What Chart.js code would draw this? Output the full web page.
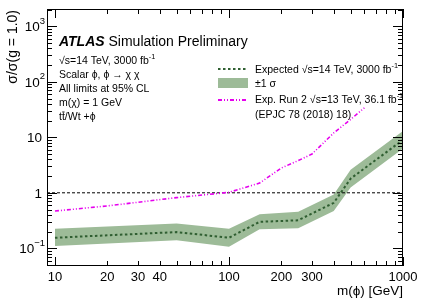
<!DOCTYPE html>
<html lang="en">
<head>
<meta charset="UTF-8">
<title>Scalar mediator limit</title>
<script src="https://cdn.jsdelivr.net/npm/chart.js"></script>
<style>
    html, body { margin: 0; padding: 0; background: #fff; }
    #wrap { width: 425px; height: 306px; }
</style>
</head>
<body>
<div id="wrap"><canvas id="limit-chart" width="425" height="306"></canvas></div>
<script>
// expected HL-LHC limit and its +-1 sigma band
const expMass = [10, 50, 100, 150, 250, 400, 500, 1000];
const expLimit = [0.155, 0.196, 0.155, 0.30, 0.32, 0.66, 1.8, 9.0];
const bandUp = [0.225, 0.28, 0.225, 0.41, 0.455, 0.93, 2.6, 13];
const bandDown = [0.11, 0.14, 0.107, 0.22, 0.23, 0.47, 1.25, 6.3];

// Run 2 expected limit (36.1 fb-1)
const run2Mass = [10, 20, 50, 100, 150, 200, 250, 300, 400, 500, 600];
const run2Limit = [0.47, 0.58, 0.82, 1.02, 1.5, 2.8, 3.8, 5.0, 12, 21, 34];

// axis ranges and labels
const xRange = [9, 1000];
const yRange = [0.048, 2050];
const xTickLabels = [10, 20, 30, 40, 100, 200, 300, 1000];
const yTickValues = [0.1, 1, 10, 100, 1000];
const yTickText = ['10', '1', '10', '10', '10'];
const yTickExp = ['\u22121', '', '', '2', '3'];

const FONT = "'Liberation Sans', Arial, Helvetica, sans-serif";
const GREEN_LINE = '#2f5e31';
const GREEN_BAND = '#9dbb98';
const MAGENTA = '#e600ee';

const pts = (xs, ys) => xs.map((x, i) => ({ x: x, y: ys[i] }));

// draws a run of text pieces; sup pieces are raised and smaller, bar pieces get an overline
function drawPieces(ctx, pieces, x, y, size) {
    let cx = x;
    pieces.forEach(p => {
        const s = p.sup ? size * 0.7 : size;
        ctx.font = (p.style || '') + ' ' + s + 'px ' + FONT;
        const dy = p.sup ? -size * 0.38 : 0;
        ctx.fillText(p.t, cx, y + dy);
        const w = ctx.measureText(p.t).width;
        if (p.bar) {
            ctx.fillRect(cx + 0.3, y - size * 0.52, w - 0.6, 0.9);
        }
        cx += w;
    });
    return cx;
}

const rootFrame = {
    id: 'rootFrame',
    afterDraw(chart) {
        const ctx = chart.ctx;
        const a = chart.chartArea;
        const xs = chart.scales.x, ys = chart.scales.y;
        ctx.save();
        ctx.strokeStyle = '#000';
        ctx.fillStyle = '#000';
        ctx.lineWidth = 1;

        // ticks on all four sides
        ctx.beginPath();
        for (let d = -2; d <= 3; d++) {
            for (let k = 1; k <= 9; k++) {
                const v = k * Math.pow(10, d);
                if (v < yRange[0] || v > yRange[1]) continue;
                const py = Math.round(ys.getPixelForValue(v)) + 0.5;
                const len = k === 1 ? 10 : 5;
                ctx.moveTo(a.left, py); ctx.lineTo(a.left + len, py);
                ctx.moveTo(a.right, py); ctx.lineTo(a.right - len, py);
            }
        }
        for (let d = 0; d <= 3; d++) {
            for (let k = 1; k <= 9; k++) {
                const v = k * Math.pow(10, d);
                if (v < xRange[0] || v > xRange[1]) continue;
                const px = Math.round(xs.getPixelForValue(v)) + 0.5;
                const len = k === 1 ? 9 : 5;
                ctx.moveTo(px, a.bottom); ctx.lineTo(px, a.bottom - len);
                ctx.moveTo(px, a.top); ctx.lineTo(px, a.top + len);
            }
        }
        ctx.stroke();
        ctx.strokeRect(a.left + 0.5, a.top + 0.5, a.right - a.left - 1, a.bottom - a.top - 1);

        // x tick labels
        ctx.font = '13px ' + FONT;
        ctx.textAlign = 'center';
        ctx.textBaseline = 'middle';
        xTickLabels.forEach(v => {
            ctx.fillText(String(v), xs.getPixelForValue(v), a.bottom + 11);
        });

        // y tick labels (10 with exponent)
        ctx.textAlign = 'left';
        yTickValues.forEach((v, i) => {
            const py = ys.getPixelForValue(v) + 1;
            ctx.font = '13.5px ' + FONT;
            const w = ctx.measureText(yTickText[i]).width;
            if (yTickExp[i]) {
                ctx.font = '9.5px ' + FONT;
                const we = ctx.measureText(yTickExp[i]).width;
                ctx.fillText(yTickExp[i], 45 - we, py - 6);
                ctx.font = '13.5px ' + FONT;
                ctx.fillText(yTickText[i], 45 - we - w, py);
            } else {
                ctx.fillText(yTickText[i], 42 - w, py);
            }
        });

        // axis titles
        ctx.font = '13.5px ' + FONT;
        ctx.textAlign = 'right';
        ctx.fillText('m(\u03d5) [GeV]', a.right, 291);
        ctx.save();
        ctx.translate(13, 10);
        ctx.rotate(-Math.PI / 2);
        ctx.font = '14px ' + FONT;
        ctx.fillText('\u03c3/\u03c3(g = 1.0)', 0, 0);
        ctx.restore();

        // ATLAS label block
        ctx.textAlign = 'left';
        const tx = 59;
        drawPieces(ctx, [{ t: 'ATLAS', style: 'italic bold' }, { t: ' Simulation Preliminary' }], tx, 42, 14);
        drawPieces(ctx, [{ t: '\u221as=14 TeV, 3000 fb' }, { t: '-1', sup: true }], tx, 61, 10.5);
        drawPieces(ctx, [{ t: 'Scalar \u03d5, \u03d5 \u2192 \u03c7 \u03c7' }], tx, 75, 10.5);
        drawPieces(ctx, [{ t: 'All limits at 95% CL' }], tx, 89, 10.5);
        drawPieces(ctx, [{ t: 'm(\u03c7) = 1 GeV' }], tx, 103, 10.5);
        drawPieces(ctx, [{ t: 't' }, { t: 't', bar: true }, { t: '/Wt +\u03d5' }], tx, 117, 10.5);

        // legend
        const lx0 = 218, lx1 = 248, ltx = 255;
        ctx.lineWidth = 2;
        ctx.strokeStyle = GREEN_LINE;
        ctx.setLineDash([2.5, 2.5]);
        ctx.beginPath(); ctx.moveTo(lx0, 69); ctx.lineTo(lx1, 69); ctx.stroke();
        ctx.fillStyle = GREEN_BAND;
        ctx.fillRect(lx0, 78, lx1 - lx0, 10);
        ctx.strokeStyle = MAGENTA;
        ctx.setLineDash([4, 2, 1, 2, 1, 2]);
        ctx.beginPath(); ctx.moveTo(lx0, 100); ctx.lineTo(lx1, 100); ctx.stroke();
        ctx.setLineDash([]);
        ctx.fillStyle = '#000';
        drawPieces(ctx, [{ t: 'Expected \u221as=14 TeV, 3000 fb' }, { t: '-1', sup: true }], ltx, 70, 10.5);
        drawPieces(ctx, [{ t: '\u00b11 \u03c3' }], ltx, 84, 10.5);
        drawPieces(ctx, [{ t: 'Exp. Run 2 \u221as=13 TeV, 36.1 fb' }, { t: '-1', sup: true }], ltx, 100, 10.5);
        drawPieces(ctx, [{ t: '(EPJC 78 (2018) 18)' }], ltx, 115, 10.5);
        ctx.restore();
    }
};

const ctx = document.getElementById('limit-chart').getContext('2d');
new Chart(ctx, {
    type: 'line',
    data: {
        datasets: [
            { data: pts(expMass, expLimit), borderColor: GREEN_LINE, borderWidth: 2, borderDash: [2.5, 2.5], fill: false, order: 0 },
            { data: pts(run2Mass, run2Limit), borderColor: MAGENTA, borderWidth: 1.6, borderDash: [4, 2, 1, 2, 1, 2], fill: false, order: 0 },
            { data: pts(xRange, [1, 1]), borderColor: '#000', borderWidth: 1, borderDash: [3, 2], fill: false, order: 1 },
            { data: pts(expMass, bandUp), borderWidth: 0, borderColor: 'rgba(0,0,0,0)', backgroundColor: GREEN_BAND, fill: '+1', order: 5 },
            { data: pts(expMass, bandDown), borderWidth: 0, borderColor: 'rgba(0,0,0,0)', fill: false, order: 5 }
        ]
    },
    options: {
        responsive: false,
        animation: false,
        layout: { padding: { left: 47, right: 22, top: 9, bottom: 40 } },
        elements: { point: { radius: 0 }, line: { tension: 0 } },
        scales: {
            x: { type: 'logarithmic', min: xRange[0], max: xRange[1], bounds: 'data', display: false },
            y: { type: 'logarithmic', min: yRange[0], max: yRange[1], bounds: 'data', display: false }
        },
        plugins: { legend: { display: false }, tooltip: { enabled: false } }
    },
    plugins: [rootFrame]
});
</script>
</body>
</html>
